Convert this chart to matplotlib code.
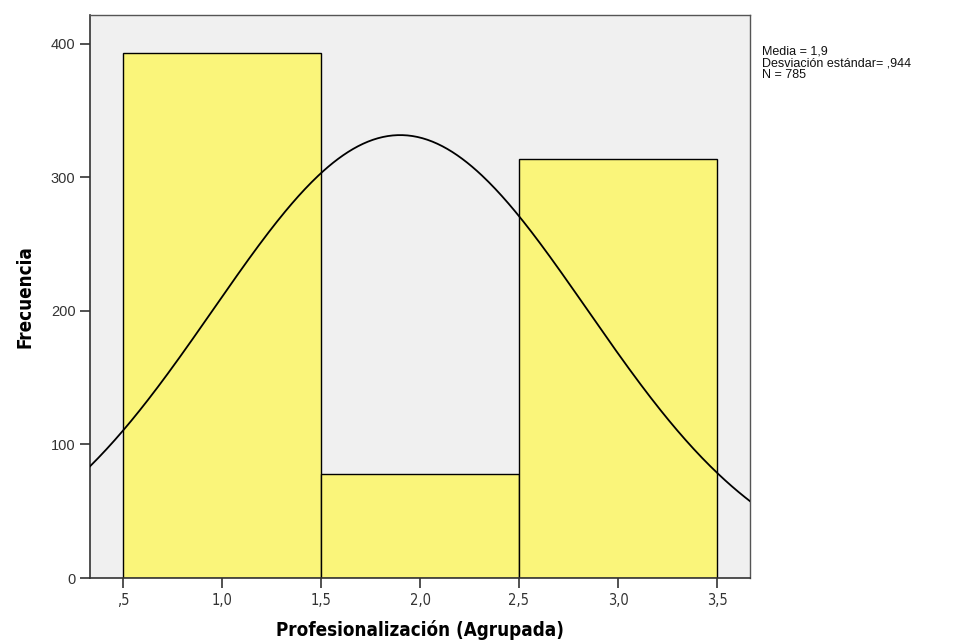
import numpy as np
import matplotlib
matplotlib.use("Agg")
import matplotlib.pyplot as plt

# histogram bins (midpoints) and counts
bin_centers = [1.0, 2.0, 3.0]
counts = [393, 78, 314]
bin_width = 1.0

media = 1.9
desv = 0.944
n_total = 785

xticks = [0.5, 1.0, 1.5, 2.0, 2.5, 3.0, 3.5]
xticklabels = [",5", "1,0", "1,5", "2,0", "2,5", "3,0", "3,5"]
yticks = [0, 100, 200, 300, 400]

narrow = ["Liberation Sans Narrow", "DejaVu Sans"]

fig = plt.figure(figsize=(9.72, 6.41), dpi=100)
ax = fig.add_axes([90/972, 63/641, 660/972, 563/641])
ax.set_facecolor("#f0f0f0")

ax.bar(bin_centers, counts, width=bin_width, color="#faf57a", edgecolor="black", linewidth=1.0, zorder=2)

# normal curve from reported mean / sd
xs = np.linspace(0.333, 3.667, 400)
ys = n_total * bin_width / (desv * np.sqrt(2 * np.pi)) * np.exp(-0.5 * ((xs - media) / desv) ** 2)
ax.plot(xs, ys, color="black", linewidth=1.3, zorder=3)

ax.set_xlim(0.333, 3.667)
ax.set_ylim(0, 421.7)
ax.set_xticks(xticks)
ax.set_xticklabels(xticklabels)
ax.set_yticks(yticks)

for sp in ["left", "bottom"]:
    ax.spines[sp].set_color("#333333")
    ax.spines[sp].set_linewidth(1.2)
for sp in ["top", "right"]:
    ax.spines[sp].set_color("#555555")
    ax.spines[sp].set_linewidth(1.0)

ax.tick_params(axis="both", direction="out", length=7, width=1.2, color="#333333",
               labelcolor="#333333", labelsize=10.5)
for lab in ax.get_xticklabels():
    lab.set_family(narrow)
    lab.set_stretch("condensed")
for lab in ax.get_yticklabels():
    lab.set_family(["Liberation Sans", "DejaVu Sans"])

ax.set_xlabel("Profesionalización (Agrupada)", fontsize=13.5, fontweight="bold",
              family=narrow, fontstretch="condensed", labelpad=9)
ax.set_ylabel("Frecuencia", fontsize=13.5, fontweight="bold", family=narrow,
              fontstretch="condensed", labelpad=12)

fig.text(762/972, 1 - 46/641,
         "Media = 1,9\nDesviación estándar= ,944\nN = 785",
         fontsize=9, family=["Liberation Sans", "DejaVu Sans"], va="top", ha="left",
         linespacing=0.95, color="#111111")

fig.savefig("out.png", dpi=100)
